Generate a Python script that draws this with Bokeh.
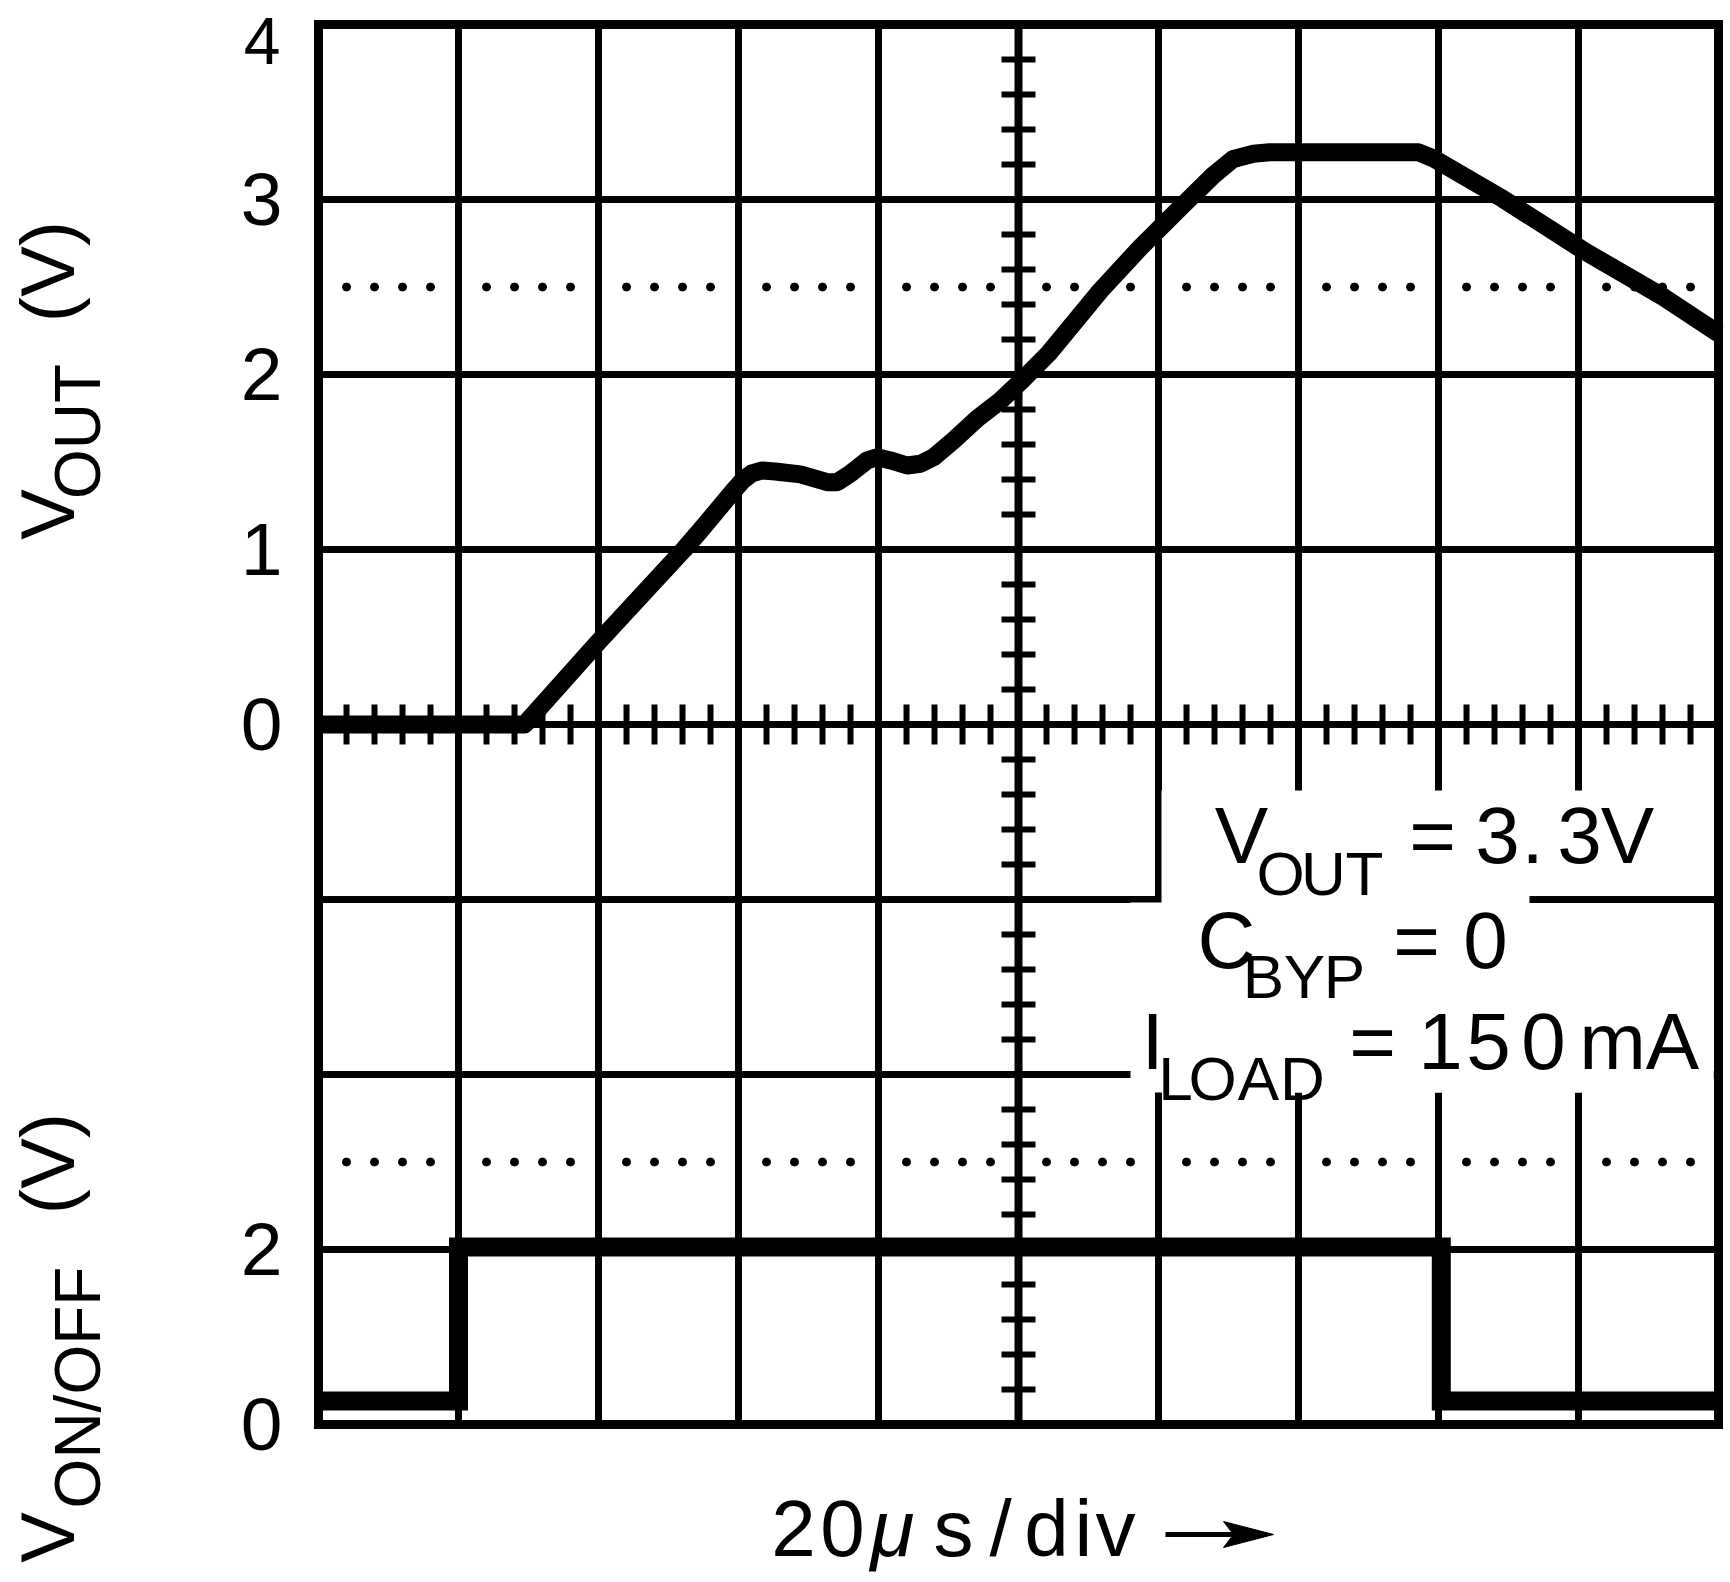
import numpy as np
from bokeh.plotting import figure
from bokeh.models import Range1d, Label
from bokeh.embed import file_html
from bokeh.resources import INLINE

# ---------------- data (time in divisions of 20 us) ----------------
t_vout = [0.0, 1.472, 1.98, 2.61, 2.729, 2.966, 3.03, 3.095, 3.17, 3.262, 3.443, 3.633,
          3.705, 3.80, 3.919, 3.99, 4.086, 4.205, 4.30, 4.393, 4.536, 4.705, 4.871, 5.019,
          5.215, 5.586, 5.873, 6.16, 6.39, 6.534, 6.678, 6.793, 7.856, 7.971, 8.459,
          9.034, 9.608, 10.0]
v_vout = [0.0, 0.0, 0.455, 1.0, 1.11, 1.337, 1.395, 1.435, 1.452, 1.446, 1.429, 1.385,
          1.385, 1.434, 1.509, 1.527, 1.509, 1.48, 1.49, 1.527, 1.623, 1.748, 1.851, 1.962,
          2.12, 2.48, 2.728, 2.956, 3.137, 3.232, 3.261, 3.27, 3.27, 3.232, 3.004,
          2.709, 2.442, 2.234]
t_onoff = [0.0, 1.0, 1.0, 8.02, 8.02, 10.0]
v_onoff = [0.27, 0.27, 2.03, 2.03, 0.27, 0.27]

vout_ticks = [0, 1, 2, 3, 4]
onoff_ticks = [0, 2]
vout_dotted = 2.5
onoff_dotted = 3.0

# scope settings: divisions of the screen and volts per division
N_XDIV, N_YDIV = 10, 8
VOUT_ZERO_DIV, VOUT_PER_DIV = 4, 1.0
ONOFF_ZERO_DIV, ONOFF_PER_DIV = 0, 2.0

# ---------------- layout ----------------
FONT = "Liberation Sans"
W, H = 1726, 1580
FL, FT, PXX, PXY = 318.0, 24.0, 140.0, 175.0   # canvas px of graticule left/top, px per div


def px2x(px):
    return (px - FL) / PXX


def px2y(py):
    return N_YDIV - (py - FT) / PXY


ylo, yhi = px2y(H), px2y(0)
p = figure(width=W, height=H, min_border=0, x_axis_type=None, y_axis_type=None,
           x_range=Range1d(px2x(0), px2x(W)), y_range=Range1d(ylo, yhi),
           output_backend="svg", toolbar_location=None)
p.extra_y_ranges = {
    "vout": Range1d((ylo - VOUT_ZERO_DIV) * VOUT_PER_DIV, (yhi - VOUT_ZERO_DIV) * VOUT_PER_DIV),
    "onoff": Range1d((ylo - ONOFF_ZERO_DIV) * ONOFF_PER_DIV, (yhi - ONOFF_ZERO_DIV) * ONOFF_PER_DIV),
}
p.background_fill_color = "white"
p.border_fill_color = "white"
p.outline_line_color = None


def to_div(v, name):
    r = p.extra_y_ranges[name]
    return ylo + (v - r.start) / (r.end - r.start) * (yhi - ylo)


LW_GRID = 7
# grid
gx = list(range(1, N_XDIV))
gy = list(range(1, N_YDIV))
p.segment(x0=gx, y0=[0] * len(gx), x1=gx, y1=[N_YDIV] * len(gx), line_color="black",
          line_width=LW_GRID)
p.segment(x0=[0] * len(gy), y0=gy, x1=[N_XDIV] * len(gy), y1=gy, line_color="black",
          line_width=LW_GRID)

# centre cross with minor ticks
p.segment(x0=[N_XDIV / 2], y0=[0], x1=[N_XDIV / 2], y1=[N_YDIV], line_color="black",
          line_width=8)
minor = [i / 5 for i in range(1, 5 * N_XDIV) if i % 5]
p.scatter(minor, [VOUT_ZERO_DIV] * len(minor), marker="dash", size=40, angle=np.pi / 2,
          line_color="black", line_width=6)
minor_y = [i / 5 for i in range(1, 5 * N_YDIV) if i % 5]
p.scatter([N_XDIV / 2] * len(minor_y), minor_y, marker="dash", size=34,
          line_color="black", line_width=6)

# dotted reference lines
dots_x = [c + f for c in range(N_XDIV) for f in (0.2, 0.4, 0.6, 0.8)]
p.scatter(dots_x, [vout_dotted] * len(dots_x), y_range_name="vout", marker="circle",
          size=8, color="black")
p.scatter(dots_x, [onoff_dotted] * len(dots_x), y_range_name="onoff", marker="circle",
          size=8, color="black")

# white text background
p.quad(left=[px2x(1161), px2x(1130)], right=[px2x(1713), px2x(1713)],
       top=[px2y(790), px2y(902)], bottom=[px2y(1092), px2y(1092)],
       fill_color="white", line_color=None)
p.segment(x0=[px2x(1529)], y0=[3], x1=[N_XDIV], y1=[3], line_color="black",
          line_width=LW_GRID)

# traces
p.line(t_vout, v_vout, y_range_name="vout", line_color="black", line_width=18,
       line_join="round")
p.line(t_onoff, v_onoff, y_range_name="onoff", line_color="black", line_width=19,
       line_join="miter")

# graticule border
p.quad(left=[0], right=[N_XDIV], bottom=[0], top=[N_YDIV], fill_color=None,
       line_color="black", line_width=9, line_join="miter")

MID = 0.394   # distance (in em) from the alphabetic baseline to the "middle" anchor


def txt(s, x, base, size, align="center", angle=0.0, italic=False):
    """Place text so that its alphabetic baseline lies at `base` (canvas px)."""
    if angle:
        xx, yy = base - MID * size, x
    else:
        xx, yy = x, base - MID * size
    p.add_layout(Label(x=xx, y=yy, x_units="canvas", y_units="canvas", text=s,
                       text_font=FONT, text_font_size=f"{size}px", text_color="black",
                       text_align=align, text_baseline="middle", angle=angle,
                       text_font_style="italic" if italic else "normal"))


def chars(s, centers, base, size, italic=False):
    for ch, xc in zip(s, centers):
        txt(ch, xc, base, size, italic=italic)


# tick labels (vertical positions through the trace scales)
for v in vout_ticks[:-1]:
    p.add_layout(Label(x=282, y=to_div(v, "vout"), x_units="canvas", y_units="data",
                       text=str(v), text_font=FONT, text_font_size="75px",
                       text_align="right", text_baseline="middle", text_color="black"))
for v in onoff_ticks:
    p.add_layout(Label(x=282, y=to_div(v, "onoff"), x_units="canvas", y_units="data",
                       text=str(v), text_font=FONT, text_font_size="75px",
                       text_align="right", text_baseline="middle", text_color="black"))
txt(str(vout_ticks[-1]), 280, 67, 66, align="right")   # top label kept inside the page

# y titles (rotated, reading upwards); x = position along the text, base = baseline x
R = np.pi / 2
txt("V", 514, 77, 76, angle=R)
txt("OUT", 431, 103, 64, angle=R)
txt("(V)", 271, 77, 76, angle=R)
txt("V", 1537, 77, 76, angle=R)
txt("ON/OFF", 1387, 103, 64, angle=R)
txt("(V)", 1163, 77, 76, angle=R)

# annotation block
MAIN, SUB = 80, 62
chars("V", [1241], 867, MAIN)
chars("OUT", [1280, 1323, 1364], 897, SUB)
chars("=3.3V", [1432, 1497, 1532, 1579, 1627], 867, MAIN)
chars("C", [1226], 972, MAIN)
chars("BYP", [1263, 1304, 1344], 1000, SUB)
chars("=0", [1416, 1485], 972, MAIN)
chars("I", [1152], 1073, MAIN)
chars("LOAD", [1175, 1212, 1258, 1302], 1102, SUB)
chars("=150mA", [1372, 1440, 1488, 1543, 1612, 1672], 1073, MAIN)

# x title with arrow
XB = 1560
chars("20", [793, 842], XB, 80)
chars("μ", [892], XB, 80, italic=True)
chars("s/div", [953, 1000, 1046, 1083, 1115], XB, 80)
AY = px2y(1534)
p.segment(x0=[px2x(1165)], y0=[AY], x1=[px2x(1240)], y1=[AY], line_color="black",
          line_width=5)
p.patch(x=[px2x(1273), px2x(1223), px2x(1233), px2x(1223)],
        y=[AY, px2y(1521), AY, px2y(1547)], fill_color="black", line_color="black",
        line_width=1)

open("out.html", "w").write(file_html(p, INLINE))
